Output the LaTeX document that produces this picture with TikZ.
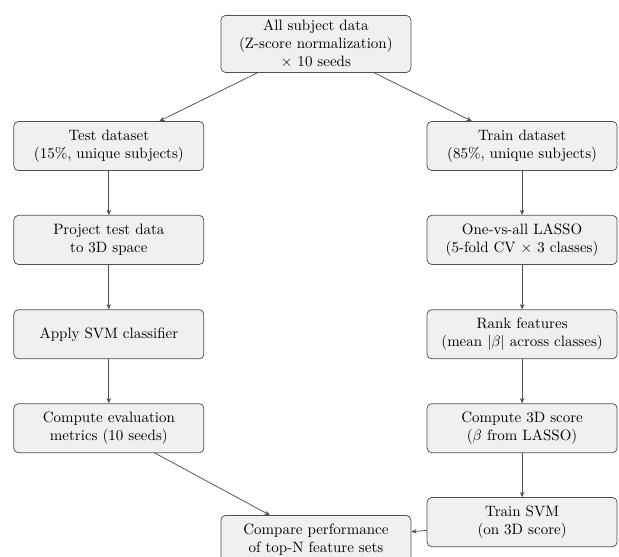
\documentclass[tikz,border=0pt]{standalone}
\usepackage{amsmath, amssymb}
\usepackage{tikz}
\usetikzlibrary{arrows.meta, positioning}
\usepackage{xcolor}
\definecolor{boxfill}{HTML}{F0F0F0}
\definecolor{boxline}{HTML}{505050}

\begin{document}
\begin{tikzpicture}[
    stage/.style={draw=boxline, fill=boxfill, rounded corners=3pt,
                  line width=0.5pt, inner sep=3pt, align=center,
                  minimum width=4.45cm, minimum height=1.15cm},
    flow/.style={-{Stealth[length=3.5pt, width=3pt]}, boxline, line width=0.5pt}
  ]
    \clip (0, 0) rectangle (14.50, -13.03);

    \node[stage] (alldata) at (7.40, -1.03)
      {All subject data\\(Z-score normalization)\\$\times$ 10 seeds};

    % test branch
    \node[stage] (testset) at (2.55, -3.42)
      {Test dataset\\(15\%, unique subjects)};
    \node[stage] (project) at (2.55, -5.62)
      {Project test data\\to 3D space};
    \node[stage] (applysvm) at (2.55, -7.83)
      {Apply SVM classifier};
    \node[stage] (evalmetrics) at (2.55, -10.03)
      {Compute evaluation\\metrics (10 seeds)};

    % train branch
    \node[stage] (trainset) at (12.23, -3.42)
      {Train dataset\\(85\%, unique subjects)};
    \node[stage] (lasso) at (12.23, -5.62)
      {One-vs-all LASSO\\(5-fold CV $\times$ 3 classes)};
    \node[stage] (rank) at (12.23, -7.83)
      {Rank features\\(mean $|\beta|$ across classes)};
    \node[stage] (score) at (12.23, -10.03)
      {Compute 3D score\\($\beta$ from LASSO)};
    \node[stage] (trainsvm) at (12.23, -12.23)
      {Train SVM\\(on 3D score)};

    \node[stage] (compare) at (7.40, -12.65)
      {Compare performance\\of top-N feature sets};

    \draw[flow] (alldata) -- (testset);
    \draw[flow] (alldata) -- (trainset);
    \draw[flow] (testset) -- (project);
    \draw[flow] (project) -- (applysvm);
    \draw[flow] (applysvm) -- (evalmetrics);
    \draw[flow] (trainset) -- (lasso);
    \draw[flow] (lasso) -- (rank);
    \draw[flow] (rank) -- (score);
    \draw[flow] (score) -- (trainsvm);
    \draw[flow] (evalmetrics) -- (compare);
    \draw[flow] (trainsvm) -- (compare);
  \end{tikzpicture}
\end{document}
